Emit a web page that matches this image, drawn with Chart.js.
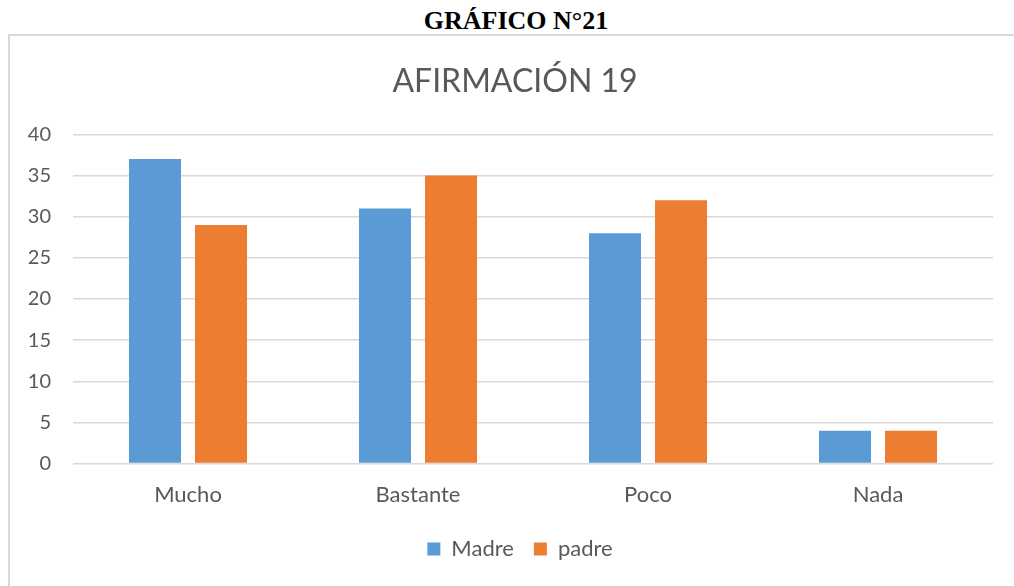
<!DOCTYPE html>
<html>
<head>
<meta charset="utf-8">
<script src="https://cdn.jsdelivr.net/npm/chart.js@4/dist/chart.umd.min.js"></script>
<style>
  html, body { margin: 0; padding: 0; background: #fff; width: 1014px; height: 586px; overflow: hidden; }
  #heading { position: absolute; left: 0; top: 6px; width: 1032px; text-align: center;
    font-family: "Liberation Serif", "Times New Roman", serif; font-weight: bold; font-size: 26px; color: #000; }
  #frame { position: absolute; left: 8px; top: 34px; width: 1100px; height: 600px; border: 2px solid #d9d9d9; }
  #wrap { position: absolute; left: 0; top: 0; width: 1014px; height: 586px; }
</style>
</head>
<body>
<div id="heading">GRÁFICO N°21</div>
<div id="frame"></div>
<div id="wrap"><canvas id="c" width="1014" height="586"></canvas></div>
<script>
const categories = ["Mucho", "Bastante", "Poco", "Nada"];
const madre = [37, 31, 28, 4];
const padre = [29, 35, 32, 4];
const yTicks = [0, 5, 10, 15, 20, 25, 30, 35, 40];

const shiftBoxes = {
  id: 'shiftBoxes',
  afterLayout(chart) {
    if (chart.titleBlock) { chart.titleBlock.left += 17; chart.titleBlock.right += 17; }
    if (chart.legend) { chart.legend.left += 22; chart.legend.right += 22; }
  }
};

const ctx = document.getElementById('c');
new Chart(ctx, {
  type: 'bar',
  data: {
    labels: categories,
    datasets: [
      { label: 'Madre', data: madre, backgroundColor: '#5b9bd5', barPercentage: 0.788, categoryPercentage: 0.574 },
      { label: 'padre', data: padre, backgroundColor: '#ed7d31', barPercentage: 0.788, categoryPercentage: 0.574 }
    ]
  },
  plugins: [shiftBoxes],
  options: {
    responsive: false,
    animation: false,
    layout: { padding: { left: 3, right: 21, top: 62, bottom: 16 } },
    plugins: {
      title: {
        display: true,
        text: 'AFIRMACIÓN 19',
        color: '#595959',
        font: { family: 'Lato, "Open Sans", sans-serif', size: 32, weight: 'normal' },
        padding: { top: 0, bottom: 34 }
      },
      legend: {
        position: 'bottom',
        labels: {
          color: '#595959',
          font: { family: 'Lato, "Open Sans", sans-serif', size: 22 },
          boxWidth: 13, boxHeight: 13, padding: 20
        }
      },
      tooltip: { enabled: false }
    },
    scales: {
      x: {
        grid: { display: false },
        border: { display: false },
        ticks: { color: '#595959', font: { family: 'Lato, "Open Sans", sans-serif', size: 22 }, padding: 10 }
      },
      y: {
        min: 0, max: 40,
        afterBuildTicks: (axis) => { axis.ticks = yTicks.map(v => ({ value: v })); },
        afterFit: (axis) => { axis.width = 70; },
        grid: { color: '#d9d9d9', lineWidth: 1.5, drawTicks: false },
        border: { display: false },
        ticks: { color: '#595959', font: { family: 'Lato, "Open Sans", sans-serif', size: 20 }, padding: 22 }
      }
    }
  }
});
</script>
</body>
</html>
